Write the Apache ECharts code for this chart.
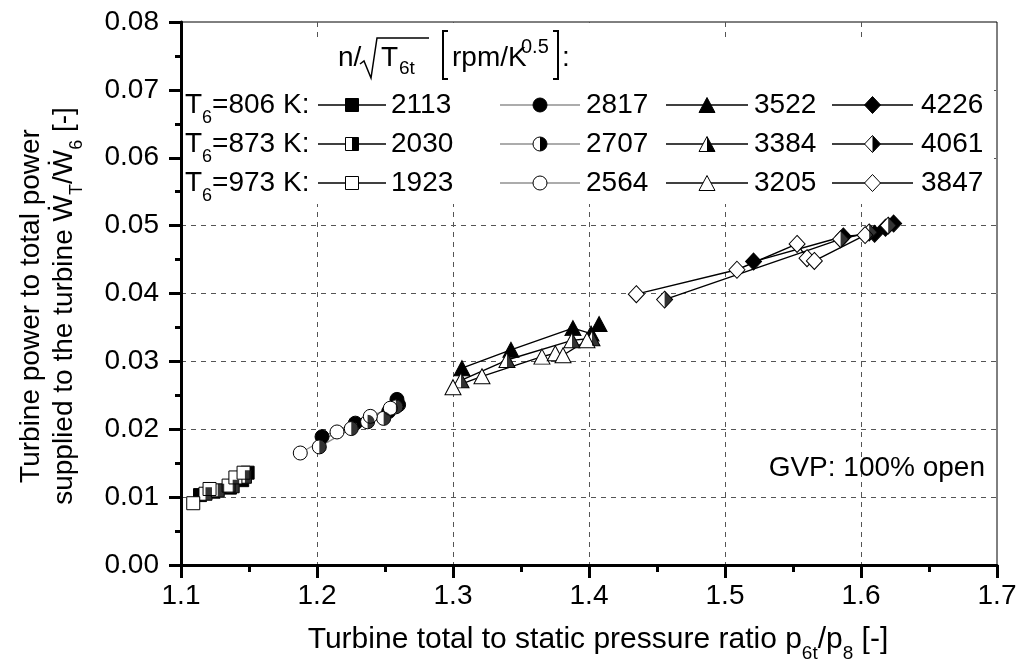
<!DOCTYPE html>
<html>
<head>
<meta charset="utf-8">
<script src="https://cdn.jsdelivr.net/npm/echarts@6/dist/echarts.min.js"></script>
<style>
  html, body { margin: 0; padding: 0; background: #fff; }
  #chart { width: 1021px; height: 671px; }
</style>
</head>
<body>
<div id="chart"></div>
<script>
// x = p6t/p8 [-], y = W_T/W_6 [-]
// T6 = 806 K (filled markers)
const sq806 = [[1.114, 0.0103], [1.124, 0.0108], [1.136, 0.0114], [1.145, 0.0125], [1.149, 0.0136]];
const ci806 = [[1.2037, 0.0189], [1.2282, 0.0209], [1.2527, 0.0226], [1.2600, 0.0236], [1.2588, 0.0244]];
const tr806 = [[1.3066, 0.0290], [1.3426, 0.0317], [1.3882, 0.0349], [1.4015, 0.0341], [1.4074, 0.0355]];
const di806 = [[1.5210, 0.0447], [1.5870, 0.0484], [1.6100, 0.0488], [1.6180, 0.0497], [1.6240, 0.0503]];
// T6 = 873 K (half filled markers)
const sq873 = [[1.118, 0.0105], [1.127, 0.0110], [1.138, 0.0116], [1.147, 0.0130]];
const ci873 = [[1.2017, 0.0174], [1.2252, 0.0201], [1.2372, 0.0211], [1.2490, 0.0216], [1.2580, 0.0233]];
const tr873 = [[1.3059, 0.0272], [1.3397, 0.0302], [1.3875, 0.0331], [1.4022, 0.0334]];
const di873 = [[1.4556, 0.0391], [1.5850, 0.0480], [1.6060, 0.0490], [1.6200, 0.0500]];
// T6 = 973 K (open markers)
const sq973 = [[1.109, 0.0091], [1.121, 0.0112], [1.135, 0.0117], [1.140, 0.0129], [1.146, 0.0136]];
const ci973 = [[1.1877, 0.0165], [1.2147, 0.0196], [1.2392, 0.0219], [1.2539, 0.0231]];
const tr973 = [[1.3000, 0.0262], [1.3213, 0.0278], [1.3654, 0.0307], [1.3752, 0.0312], [1.3809, 0.0309], [1.3985, 0.0331]];
const di973 = [[1.4348, 0.0399], [1.5088, 0.0435], [1.5530, 0.0473], [1.5603, 0.0452], [1.5657, 0.0448], [1.6030, 0.0486]];

// legend labels
const tempLabels = ['806', '873', '973'];
const speedLabels = [
  ['2113', '2817', '3522', '4226'],
  ['2030', '2707', '3384', '4061'],
  ['1923', '2564', '3205', '3847']
];
const xTicks = [1.1, 1.2, 1.3, 1.4, 1.5, 1.6, 1.7];
const yTicks = [0, 0.01, 0.02, 0.03, 0.04, 0.05, 0.06, 0.07, 0.08];

const dataRows = [
  [sq806, ci806, tr806, di806],
  [sq873, ci873, tr873, di873],
  [sq973, ci973, tr973, di973]
];

const FONT = 'Liberation Sans, Arial, DejaVu Sans, sans-serif';

// marker outlines, 20x20 box; the "half" paths carry tiny corner dots so the box stays 20x20
const SHAPES = {
  square:   { full: 'M0 0L20 0L20 20L0 20Z', half: 'M0 0L0.01 0L0 0.01Z M10 0L20 0L20 20L10 20Z', size: [13, 13],
              poly: [[0, 0], [1, 0], [1, 1], [0, 1]], halfPoly: [[0.5, 0], [1, 0], [1, 1], [0.5, 1]] },
  circle:   { full: 'M10 0A10 10 0 1 1 10 20A10 10 0 1 1 10 0Z', half: 'M0 10L0.01 10L0 10.01Z M10 0A10 10 0 0 1 10 20Z', size: [14, 14] },
  triangle: { full: 'M10 0L20 20L0 20Z', half: 'M0 20L0.01 20L0 19.99Z M10 0L20 20L10 20Z', size: [16, 15],
              poly: [[0.5, 0], [1, 1], [0, 1]], halfPoly: [[0.5, 0], [1, 1], [0.5, 1]] },
  diamond:  { full: 'M10 0L20 10L10 20L0 10Z', half: 'M0 10L0.01 10L0 10.01Z M10 0L20 10L10 20Z', size: [16, 17],
              poly: [[0.5, 0], [1, 0.5], [0.5, 1], [0, 0.5]], halfPoly: [[0.5, 0], [1, 0.5], [0.5, 1]] }
};
const shapeCols = ['square', 'circle', 'triangle', 'diamond'];
const fillRows = ['full', 'half', 'open'];
const lineColors = ['#000', '#909090', '#000', '#000'];

const chart = echarts.init(document.getElementById('chart'));

// series
const series = [];
dataRows.forEach((row, r) => {
  row.forEach((pts, c) => {
    const shp = SHAPES[shapeCols[c]];
    const data = pts.slice().sort((a, b) => a[0] - b[0]);
    series.push({
      type: 'line',
      name: speedLabels[r][c],
      data: data,
      symbol: 'path://' + shp.full,
      symbolSize: shp.size,
      showAllSymbol: true,
      lineStyle: { color: lineColors[c], width: 1.4 },
      itemStyle: {
        color: fillRows[r] === 'full' ? '#000' : '#fff',
        borderColor: '#000',
        borderWidth: 1
      },
      emphasis: { disabled: true },
      z: 3
    });
    if (fillRows[r] === 'half') {
      series.push({
        type: 'scatter',
        data: data,
        symbol: 'path://' + shp.half,
        symbolSize: shp.size,
        itemStyle: { color: '#000' },
        emphasis: { disabled: true },
        z: 4
      });
    }
  });
});

// legend drawn by hand (table layout), on a white box that hides the grid
const graphics = [
  { type: 'rect', shape: { x: 183, y: 38, width: 811, height: 166 }, style: { fill: '#fff' }, z: 5 },
  { type: 'rect', shape: { x: 330, y: 23, width: 270, height: 20 }, style: { fill: '#fff' }, z: 5 }
];
const rowY = [105, 144, 183];
const colLine = [[318, 386], [500, 580], [666, 748], [832, 913]];
const colText = [391, 586, 754, 921];

function addMarker(shape, fill, cx, cy) {
  const shp = SHAPES[shape];
  const w = shp.size[0], h = shp.size[1];
  const x0 = cx - w / 2, y0 = cy - h / 2;
  const baseStyle = { fill: fill === 'full' ? '#000' : '#fff', stroke: '#000', lineWidth: 1 };
  if (shape === 'circle') {
    graphics.push({ type: 'circle', shape: { cx: cx, cy: cy, r: w / 2 }, style: baseStyle, z: 10 });
    if (fill === 'half') {
      graphics.push({
        type: 'sector',
        shape: { cx: cx, cy: cy, r: w / 2, r0: 0, startAngle: -Math.PI / 2, endAngle: Math.PI / 2, clockwise: true },
        style: { fill: '#000' }, z: 11
      });
    }
    return;
  }
  graphics.push({
    type: 'polygon',
    shape: { points: shp.poly.map(p => [x0 + p[0] * w, y0 + p[1] * h]) },
    style: baseStyle, z: 10
  });
  if (fill === 'half') {
    graphics.push({
      type: 'polygon',
      shape: { points: shp.halfPoly.map(p => [x0 + p[0] * w, y0 + p[1] * h]) },
      style: { fill: '#000' }, z: 11
    });
  }
}

const richBase = {
  t: { fontSize: 28, fontFamily: FONT, color: '#000', lineHeight: 32 },
  sub: { fontSize: 18, fontFamily: FONT, color: '#000', lineHeight: 20, padding: [26, 0, 0, 0] },
  sup: { fontSize: 18, fontFamily: FONT, color: '#000', lineHeight: 20, padding: [0, 0, 22, 0] }
};
const richX = {
  t: { fontSize: 30, fontFamily: FONT, color: '#000', lineHeight: 34 },
  sub: { fontSize: 19, fontFamily: FONT, color: '#000', lineHeight: 21, padding: [28, 0, 0, 0] }
};

tempLabels.forEach((tl, r) => {
  graphics.push({
    type: 'text', x: 185, y: rowY[r],
    style: { text: '{t|T}{sub|6}{t|=' + tl + ' K:}', rich: richBase, align: 'left', verticalAlign: 'middle' },
    z: 10
  });
  shapeCols.forEach((shape, c) => {
    graphics.push({
      type: 'line',
      shape: { x1: colLine[c][0], y1: rowY[r], x2: colLine[c][1], y2: rowY[r] },
      style: { stroke: lineColors[c], lineWidth: 1.5 },
      z: 9
    });
    addMarker(shape, fillRows[r], (colLine[c][0] + colLine[c][1]) / 2, rowY[r]);
    graphics.push({
      type: 'text', x: colText[c], y: rowY[r],
      style: { text: speedLabels[r][c], fontSize: 28, fontFamily: FONT, fill: '#000', align: 'left', verticalAlign: 'middle' },
      z: 10
    });
  });
});

// legend title n/sqrt(T6t) [rpm/K^0.5]:
const T = (x, y, text, size) => ({
  type: 'text', x: x, y: y, z: 10,
  style: { text: text, fontSize: size, fontFamily: FONT, fill: '#000', align: 'left', verticalAlign: 'middle' }
});
graphics.push(
  T(338, 58, 'n/', 28),
  { type: 'polyline', z: 10, shape: { points: [[360, 64], [364, 61], [371, 78], [377, 38], [429, 38]] }, style: { stroke: '#000', lineWidth: 1.5, fill: null } },
  T(381, 58, 'T', 28),
  T(399, 69, '6t', 19),
  { type: 'polyline', z: 10, shape: { points: [[448, 31], [443, 31], [443, 79], [448, 79]] }, style: { stroke: '#000', lineWidth: 2, fill: null } },
  T(452, 58, 'rpm/K', 28),
  T(521, 47, '0.5', 20),
  { type: 'polyline', z: 10, shape: { points: [[553, 31], [558, 31], [558, 79], [553, 79]] }, style: { stroke: '#000', lineWidth: 2, fill: null } },
  T(562, 58, ':', 28)
);

// annotation
graphics.push({
  type: 'text', x: 985, y: 468, z: 10,
  style: { text: 'GVP: 100% open', fontSize: 28, fontFamily: FONT, fill: '#000', align: 'right', verticalAlign: 'middle' }
});

// axis titles
graphics.push({
  type: 'text', x: 598, y: 640,
  style: {
    text: '{t|Turbine total to static pressure ratio p}{sub|6t}{t|/p}{sub|8}{t| [-]}',
    rich: richX, align: 'center', verticalAlign: 'middle'
  }
});
graphics.push({
  type: 'text', x: 31, y: 306, rotation: Math.PI / 2,
  style: { text: 'Turbine power to total power', fontSize: 28, fontFamily: FONT, fill: '#000', align: 'center', verticalAlign: 'middle' }
});
graphics.push({
  type: 'text', x: 64, y: 306, rotation: Math.PI / 2,
  style: {
    text: '{t|supplied to the turbine Ẇ}{sub|T}{t|/Ẇ}{sub|6}{t| [-]}',
    rich: richBase, align: 'center', verticalAlign: 'middle'
  }
});

chart.setOption({
  animation: false,
  backgroundColor: '#fff',
  grid: {
    left: 181, right: 24, top: 22, bottom: 106,
    show: true, borderColor: '#000', borderWidth: 1,
    containLabel: false, outerBoundsMode: 'none'
  },
  xAxis: {
    type: 'value',
    min: xTicks[0], max: xTicks[xTicks.length - 1], interval: 0.1,
    axisLine: { lineStyle: { color: '#000', width: 3 } },
    axisTick: { length: 13, lineStyle: { color: '#000', width: 3 } },
    minorTick: { show: true, splitNumber: 2, length: 7, lineStyle: { color: '#000', width: 3 } },
    axisLabel: { fontSize: 28, fontFamily: FONT, color: '#000', margin: 17, formatter: v => v.toFixed(1) },
    splitLine: { show: true, showMinLine: false, showMaxLine: false, lineStyle: { color: '#555', width: 1, type: [5, 5] } }
  },
  yAxis: {
    type: 'value',
    min: yTicks[0], max: yTicks[yTicks.length - 1], interval: 0.01,
    axisLine: { lineStyle: { color: '#000', width: 3 } },
    axisTick: { length: 12, lineStyle: { color: '#000', width: 3 } },
    minorTick: { show: true, splitNumber: 2, length: 6, lineStyle: { color: '#000', width: 3 } },
    axisLabel: { fontSize: 28, fontFamily: FONT, color: '#000', margin: 22, formatter: v => v.toFixed(2) },
    splitLine: { show: true, showMinLine: false, showMaxLine: false, lineStyle: { color: '#555', width: 1, type: [5, 5] } }
  },
  graphic: graphics,
  series: series
});
</script>
</body>
</html>
